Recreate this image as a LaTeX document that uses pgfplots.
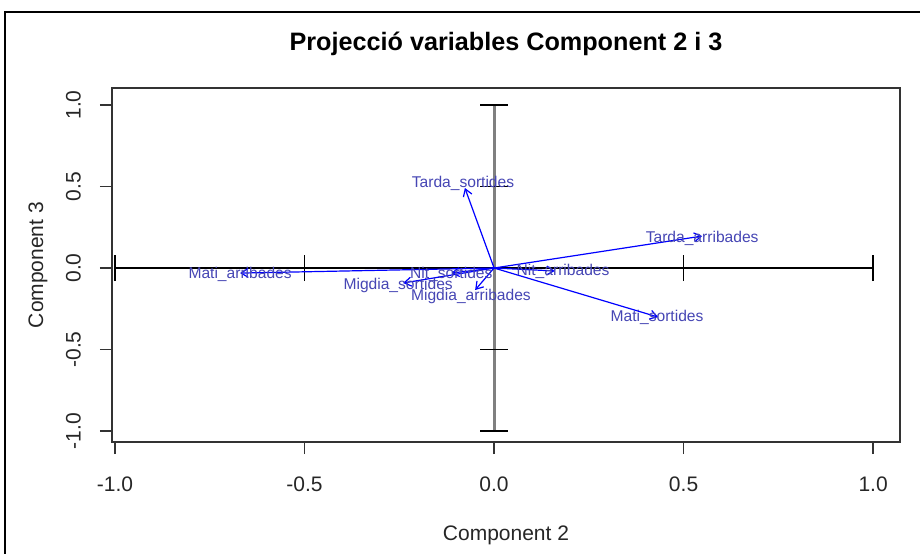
\documentclass[border=0pt]{standalone}
\usepackage{pgfplots}
\pgfplotsset{compat=1.18}
\usepackage{pgfplotstable}
\usepackage{fontspec}
\setmainfont{Liberation Sans}
\usetikzlibrary{arrows.meta}
\definecolor{rblue}{RGB}{0,0,255}
\definecolor{labblue}{RGB}{70,70,180}

% label positions of the variables (Component 2, Component 3)
\pgfplotstableread{
x      y      label
-0.082  0.521 Tarda\_sortides
 0.549  0.184 Tarda\_arribades
 0.430 -0.301 Mati\_sortides
-0.670 -0.037 Mati\_arribades
-0.113 -0.037 Nit\_sortides
 0.182 -0.018 Nit\_arribades
-0.253 -0.110 Migdia\_sortides
-0.061 -0.172 Migdia\_arribades
}\labtab

\begin{document}
\begin{tikzpicture}
\begin{axis}[
  scale only axis, width=394pt, height=177pt,
  xmin=-1.008, xmax=1.071, ymin=-1.067, ymax=1.104,
  clip=false,
  axis line style={black!80, line width=0.8pt},
  tick pos=left, tick align=outside, major tick length=6pt,
  tick style={black!80, line width=0.8pt},
  xtick={-1,-0.5,0,0.5,1}, xticklabels={-1.0,-0.5,0.0,0.5,1.0},
  ytick={-1,-0.5,0,0.5,1}, yticklabels={-1.0,-0.5,0.0,0.5,1.0},
  ticklabel style={font=\fontsize{10.5}{12}\selectfont, black!85},
  xticklabel style={yshift=-8pt},
  yticklabel style={rotate=90, anchor=south, yshift=6pt},
  title={Projecció variables Component 2 i 3},
  title style={at={(axis description cs:0.5,1)}, anchor=center, yshift=16pt,
    font=\bfseries\fontsize{12.6}{14}\selectfont},
  xlabel={Component 2},
  xlabel style={at={(axis description cs:0.5,0)}, anchor=center, yshift=-46.5pt,
    font=\fontsize{10.5}{12}\selectfont, black!85},
  ylabel={Component 3},
  ylabel style={at={(axis description cs:0,0.5)}, anchor=center, yshift=37pt,
    font=\fontsize{10.5}{12}\selectfont, black!85},
]
% reference lines through the origin
\addplot[black, line width=0.75pt] coordinates {(-1,0) (1,0)};
\addplot[black!50, line width=1.5pt] coordinates {(0,-1) (0,1)};
\addplot[black, line width=0.75pt] coordinates {(-1,-0.08) (-1,0.08)};
\addplot[black, line width=0.75pt] coordinates {(-0.5,-0.08) (-0.5,0.08)};
\addplot[black, line width=0.75pt] coordinates {(0.5,-0.08) (0.5,0.08)};
\addplot[black, line width=0.75pt] coordinates {(1,-0.08) (1,0.08)};
\addplot[black, line width=0.75pt] coordinates {(-0.037,1) (0.037,1)};
\addplot[black, line width=0.75pt] coordinates {(-0.037,0.5) (0.037,0.5)};
\addplot[black, line width=0.75pt] coordinates {(-0.037,-0.5) (0.037,-0.5)};
\addplot[black, line width=0.75pt] coordinates {(-0.037,-1) (0.037,-1)};
% variable arrows
\pgfplotsset{arr/.style={rblue, line width=0.6pt, -{Straight Barb[length=3.5pt,width=4.5pt]}}}
\addplot[arr] coordinates {(0,0) (-0.077,0.491)};
\addplot[arr] coordinates {(0,0) (0.549,0.196)};
\addplot[arr] coordinates {(0,0) (0.433,-0.301)};
\addplot[arr] coordinates {(0,0) (-0.670,-0.031)};
\addplot[arr] coordinates {(0,0) (-0.113,-0.031)};
\addplot[arr] coordinates {(0,0) (0.160,-0.018)};
\addplot[arr] coordinates {(0,0) (-0.240,-0.092)};
\addplot[arr] coordinates {(0,0) (-0.050,-0.135)};
% variable names
\addplot[draw=none, mark=none, nodes near coords, point meta=explicit symbolic,
  nodes near coords style={anchor=center, labblue, inner sep=0pt,
    font=\fontsize{7.8}{9}\selectfont}]
  table[x=x, y=y, meta=label] {\labtab};
\end{axis}
\draw[black, line width=1pt] (-53.5pt,-70pt) -- (-53.5pt,215pt) -- (420pt,215pt);
\pgfresetboundingbox
\path[use as bounding box] (-56pt,-55.5pt) rectangle (404pt,221pt);
\end{tikzpicture}
\end{document}
